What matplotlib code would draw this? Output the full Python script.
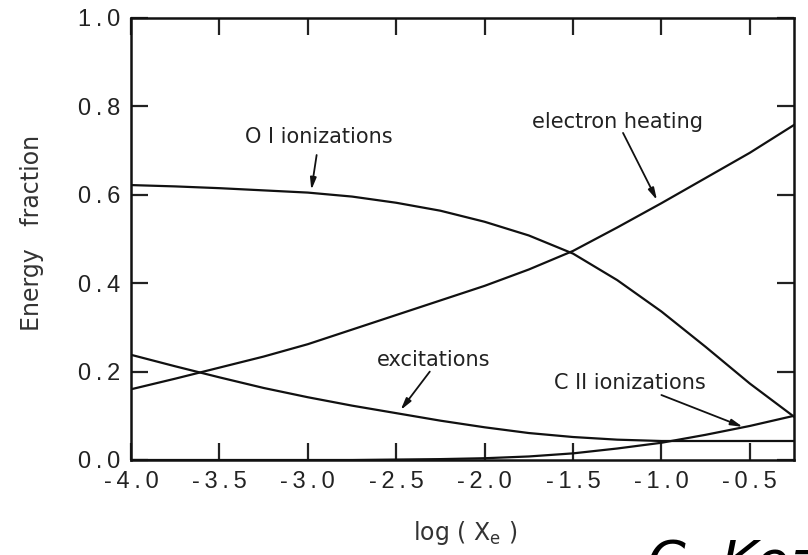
import matplotlib
matplotlib.use("Agg")
import matplotlib.pyplot as plt
from matplotlib.ticker import FixedLocator

# Data (x = log Xe)
x_vals = [-4.0, -3.75, -3.5, -3.25, -3.0, -2.75, -2.5, -2.25, -2.0, -1.75,
          -1.5, -1.25, -1.0, -0.75, -0.5, -0.25]
oi_ion = [0.622, 0.619, 0.615, 0.610, 0.605, 0.596, 0.582, 0.564, 0.539, 0.508,
          0.467, 0.407, 0.336, 0.256, 0.173, 0.098]
e_heat = [0.160, 0.184, 0.209, 0.234, 0.262, 0.295, 0.328, 0.361, 0.394, 0.431,
          0.473, 0.526, 0.581, 0.638, 0.695, 0.758]
excit = [0.238, 0.212, 0.187, 0.163, 0.142, 0.123, 0.106, 0.089, 0.074, 0.061,
         0.052, 0.046, 0.043, 0.043, 0.043, 0.043]
cii_ion = [0.000, 0.000, 0.000, 0.000, 0.000, 0.000, 0.001, 0.002, 0.004, 0.008,
           0.015, 0.026, 0.039, 0.057, 0.077, 0.100]

x_ticks = [-4.0, -3.5, -3.0, -2.5, -2.0, -1.5, -1.0, -0.5]
x_ticklabels = ["-4.0", "-3.5", "-3.0", "-2.5", "-2.0", "-1.5", "-1.0", "-0.5"]
y_ticks = [0.0, 0.2, 0.4, 0.6, 0.8, 1.0]
y_ticklabels = ["0.0", "0.2", "0.4", "0.6", "0.8", "1.0"]

TS = "\u2009"
def spaced(s):
    return TS.join(list(s))

fam = ["Liberation Sans", "DejaVu Sans"]
plt.rcParams["font.family"] = fam

fig = plt.figure(figsize=(8.08, 5.55), dpi=100)
ax = fig.add_axes([131/808, 1-460/555, (794-131)/808, (460-18)/555])

lc = "#111111"
lw = 1.6
for ys in (oi_ion, e_heat, excit, cii_ion):
    ax.plot(x_vals, ys, color=lc, lw=lw, solid_joinstyle="round")

ax.set_xlim(-4.0, -0.25)
ax.set_ylim(0.0, 1.0)

ax.xaxis.set_major_locator(FixedLocator(x_ticks))
ax.yaxis.set_major_locator(FixedLocator(y_ticks))
ax.set_xticklabels([spaced(s) for s in x_ticklabels])
ax.set_yticklabels([spaced(s) for s in y_ticklabels])
ax.tick_params(direction="in", length=12, width=1.6, top=True, right=True,
               labelsize=17, colors="#222222", pad=8)
for sp in ax.spines.values():
    sp.set_linewidth(1.8)
    sp.set_color("#111111")

fig.text(32/808, 1-233/555, "Energy   fraction", fontsize=17, color="#333333",
         rotation=90, ha="center", va="center", family=["DejaVu Sans"])
fig.text(465/808, 1-533/555, "log ( X$_{\\rm e}$ )", fontsize=17, color="#333333",
         ha="center", va="center", family=["DejaVu Sans"])

tfont = dict(fontsize=15, color="#222222", ha="center", va="center",
             family=["DejaVu Sans"])
ax.text(-2.94, 0.731, "O I ionizations", **tfont)
ax.text(-1.25, 0.765, "electron heating", **tfont)
ax.text(-2.29, 0.226, "excitations", **tfont)
ax.text(-1.18, 0.174, "C II ionizations", **tfont)

aprops = dict(arrowstyle="-|>,head_length=0.7,head_width=0.18", color="#111111",
              lw=1.3, shrinkA=0, shrinkB=0)
ax.annotate("", xy=(-2.98, 0.611), xytext=(-2.95, 0.690), arrowprops=aprops)
ax.annotate("", xy=(-1.025, 0.588), xytext=(-1.217, 0.740), arrowprops=aprops)
ax.annotate("", xy=(-2.475, 0.113), xytext=(-2.31, 0.200), arrowprops=aprops)
ax.annotate("", xy=(-0.54, 0.075), xytext=(-1.0, 0.147), arrowprops=aprops)

fig.text(647/808, 17/555, "C. Kozma", fontsize=40, ha="left", va="top",
         color="black", family=["DejaVu Sans"], style="italic")

fig.savefig("out.png", dpi=100)
